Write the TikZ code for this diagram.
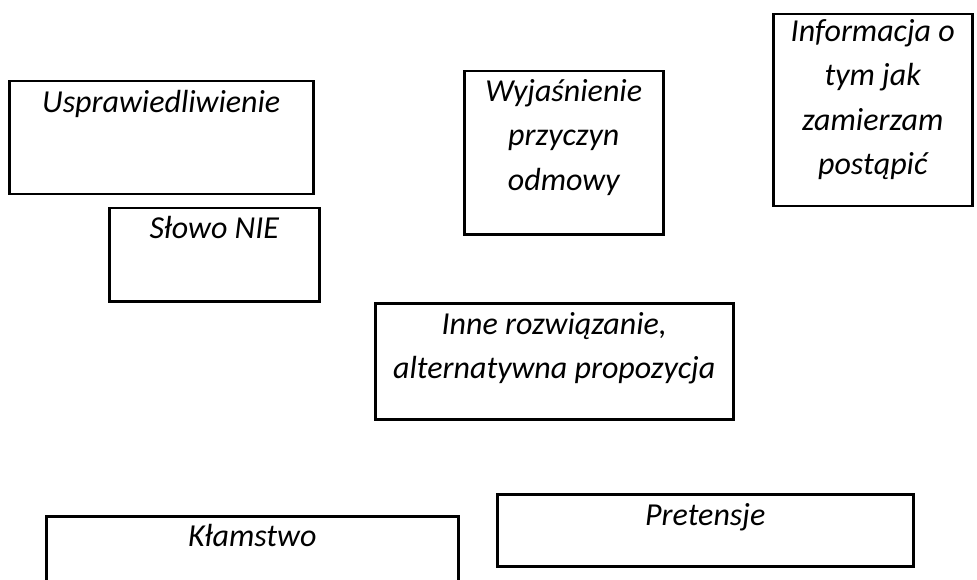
\documentclass[tikz,border=0pt]{standalone}
\usepackage{fontspec}
\setmainfont{Carlito}
\usetikzlibrary{positioning}
\newcommand{\wordfont}{\fontsize{32}{44.5}\selectfont\itshape}
\tikzset{
kasten/.style 2 args={draw, line width=2.5pt, minimum width=#1, minimum height=#2, inner sep=0pt, anchor=north west},
napis/.style={align=center, inner sep=0pt, font=\wordfont},
}

\begin{document}
\begin{tikzpicture}[x=1pt, y=-1pt]
\useasboundingbox (0,0) rectangle (977,580);
\clip (0,0) rectangle (977,580);
% ramki
\node[kasten={304pt}{113pt}] (usp) at (8,80) {};
\node[kasten={210pt}{93pt}] (nie) at (108,207) {};
\node[kasten={199pt}{163pt}] (wyj) at (463,70) {};
\node[kasten={199pt}{192pt}] (inf) at (772,13) {};
\node[kasten={358pt}{116pt}] (inne) at (374,302) {};
\node[kasten={412pt}{100pt}] (klam) at (45,515) {};
\node[kasten={416pt}{72pt}] (pret) at (496,493) {};

% napisy
\node[napis, below=10pt of usp.north] (uspt) {Usprawiedliwienie};
\node[napis, below=9pt of nie.north] (niet) {Słowo NIE};
\node[napis, below=9pt of wyj.north] (wyjt) {Wyjaśnienie\\przyczyn\\odmowy};
\node[napis, below=6pt of inf.north] (inft) {Informacja o\\tym jak\\zamierzam\\postąpić};
\node[napis, below=10pt of inne.north] (innet) {Inne rozwiązanie,\\alternatywna propozycja};
\node[napis, below=9pt of klam.north] (klamt) {Kłamstwo};
\node[napis, below=10pt of pret.north] (prett) {Pretensje};
\end{tikzpicture}
\end{document}
